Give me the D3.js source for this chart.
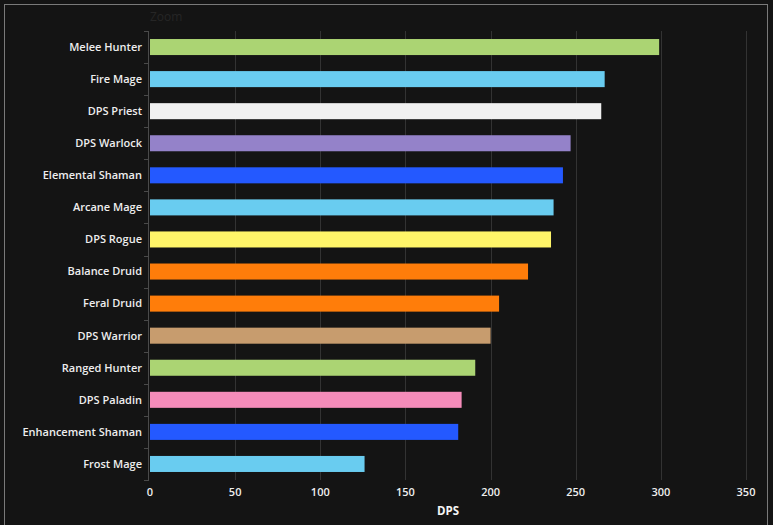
<!DOCTYPE html>
<html><head><meta charset="utf-8">
<script src="https://cdn.jsdelivr.net/npm/d3@7"></script>
<style>
html,body{margin:0;padding:0;background:#141414;}
svg{display:block;}
</style></head>
<body>
<svg id="chart" width="773" height="525"></svg>
<script>
const categories = ["Melee Hunter","Fire Mage","DPS Priest","DPS Warlock","Elemental Shaman","Arcane Mage","DPS Rogue","Balance Druid","Feral Druid","DPS Warrior","Ranged Hunter","DPS Paladin","Enhancement Shaman","Frost Mage"];
const dps = [299,267,265,247,242.5,237,235.5,222,205,200,191,183,181,126];
const barColors = ["#ABD473","#69CCF0","#F0F0F0","#9482C9","#2459FF","#69CCF0","#FFF569","#FF7D0A","#FF7D0A","#C79C6E","#ABD473","#F58CBA","#2459FF","#69CCF0"];
const xTicks = [0,50,100,150,200,250,300,350];
const titleText = "Zoom";
const xTitle = "DPS";

(function () {
const svg = d3.select("#chart");
const W = 773, H = 525;
const mLeft = 150, mRight = 746, mTop = 31, mBottom = 480;
const font = "'Open Sans', 'DejaVu Sans', sans-serif";

svg.append("rect").attr("width", W).attr("height", H).attr("fill", "#141414");
svg.append("rect").attr("x", 4.5).attr("y", 4.5).attr("width", 763).attr("height", 540)
  .attr("fill", "none").attr("stroke", "#7a7a7a").attr("stroke-width", 1);

const x = d3.scaleLinear().domain([0, 350]).range([mLeft, mRight]);
const y = d3.scaleBand().domain(categories).range([mTop, mBottom]).paddingInner(0.5).paddingOuter(0.25);

// gridlines
svg.append("g").selectAll("line").data(xTicks.filter(d => d > 0)).join("line")
  .attr("x1", d => Math.round(x(d)) + 0.5).attr("x2", d => Math.round(x(d)) + 0.5)
  .attr("y1", mTop).attr("y2", mBottom)
  .attr("stroke", "#333").attr("stroke-width", 1);

// bars
svg.append("g").selectAll("rect").data(categories).join("rect")
  .attr("x", x(0))
  .attr("y", d => y(d))
  .attr("width", (d, i) => x(dps[i]) - x(0))
  .attr("height", y.bandwidth())
  .attr("fill", (d, i) => barColors[i]);

// y axis line and ticks at band boundaries
const step = (mBottom - mTop) / categories.length;
const yAxisG = svg.append("g");
yAxisG.append("line").attr("x1", 148.5).attr("x2", 148.5).attr("y1", mTop).attr("y2", mBottom + 1)
  .attr("stroke", "#4a4a4a");
yAxisG.selectAll("line.tk").data(d3.range(categories.length + 1)).join("line").attr("class", "tk")
  .attr("x1", 144).attr("x2", 149)
  .attr("y1", i => Math.round(mTop + i * step) + 0.5).attr("y2", i => Math.round(mTop + i * step) + 0.5)
  .attr("stroke", "#4a4a4a");

// category labels
svg.append("g").selectAll("text").data(categories).join("text")
  .attr("x", 142)
  .attr("y", d => y(d) + y.bandwidth() / 2)
  .attr("dy", "0.35em")
  .attr("text-anchor", "end")
  .attr("fill", "#eeeeee")
  .attr("font-family", font)
  .attr("font-size", "11px")
  .attr("font-weight", 600)
  .text(d => d);

// x tick labels
svg.append("g").selectAll("text").data(xTicks).join("text")
  .attr("x", d => x(d))
  .attr("y", 496)
  .attr("text-anchor", "middle")
  .attr("fill", "#eeeeee")
  .attr("font-family", font)
  .attr("font-size", "11px")
  .attr("font-weight", 600)
  .text(d => d);

// x axis title
svg.append("text")
  .attr("x", (mLeft + mRight) / 2)
  .attr("y", 515)
  .attr("text-anchor", "middle")
  .attr("fill", "#f4f4f4")
  .attr("font-family", font)
  .attr("font-size", "11.5px")
  .attr("font-weight", "bold")
  .text(xTitle);

// title
svg.append("text")
  .attr("x", 150)
  .attr("y", 21)
  .attr("fill", "#262626")
  .attr("font-family", font)
  .attr("font-size", "12px")
  .text(titleText);
})();
</script>
</body></html>
